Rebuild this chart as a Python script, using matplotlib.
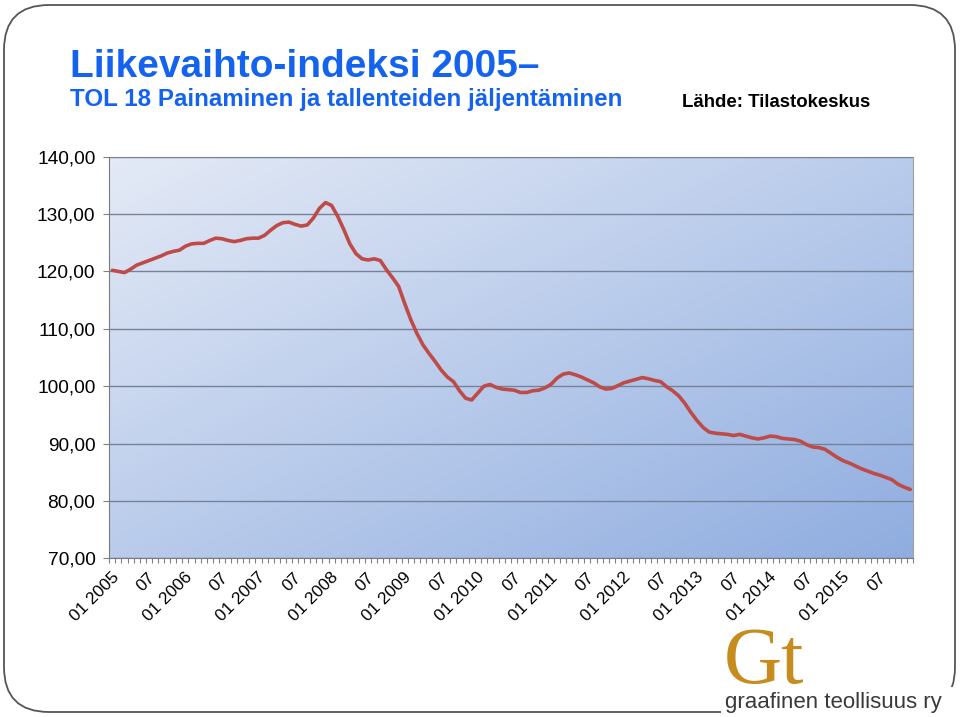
import numpy as np
import matplotlib
matplotlib.use("Agg")
import matplotlib.pyplot as plt
from matplotlib.patches import FancyBboxPatch, Rectangle
from matplotlib.transforms import IdentityTransform, ScaledTranslation

# monthly index, 01/2005 - 12/2015
index_values = [
    120.2, 120.0, 119.8, 120.4, 121.1, 121.5, 121.9, 122.3, 122.7, 123.2, 123.5, 123.7,
    124.4, 124.8, 124.9, 124.9, 125.4, 125.8, 125.7, 125.4, 125.2, 125.4, 125.7, 125.8,
    125.8, 126.3, 127.2, 128.0, 128.5, 128.6, 128.2, 127.9, 128.1, 129.3, 131.0, 132.0,
    131.5, 129.6, 127.3, 124.8, 123.1, 122.2, 122.0, 122.2, 121.9, 120.3, 118.9, 117.4,
    114.4, 111.6, 109.2, 107.2, 105.7, 104.3, 102.8, 101.6, 100.8, 99.2, 97.9, 97.6,
    98.8, 100.0, 100.3, 99.8, 99.5, 99.4, 99.3, 98.9, 98.9, 99.2, 99.3, 99.7,
    100.3, 101.4, 102.1, 102.3, 102.0, 101.6, 101.1, 100.6, 99.9, 99.5, 99.6, 100.1,
    100.6, 100.9, 101.2, 101.5, 101.3, 101.0, 100.8, 99.9, 99.2, 98.3, 97.0, 95.4,
    94.0, 92.8, 92.0, 91.8, 91.7, 91.6, 91.4, 91.6, 91.3, 91.0, 90.8, 91.0,
    91.3, 91.2, 90.9, 90.8, 90.7, 90.4, 89.8, 89.4, 89.3, 89.0, 88.3, 87.6,
    87.0, 86.6, 86.1, 85.6, 85.2, 84.8, 84.5, 84.1, 83.7, 82.9, 82.4, 82.0,
]
years = list(range(2005, 2016))
tick_labels = []
for y in years:
    tick_labels += ["01 " + str(y), "07"]
y_ticks = [70, 80, 90, 100, 110, 120, 130, 140]

plt.rcParams['font.family'] = ['Liberation Sans', 'DejaVu Sans']

W, H = 960, 717
fig = plt.figure(figsize=(W / 100, H / 100), dpi=100)
fig.patch.set_facecolor('white')

# rounded frame
frame = FancyBboxPatch((4, 5), 951, 707, boxstyle="round,pad=0,rounding_size=45",
                       transform=IdentityTransform(), facecolor='none',
                       edgecolor='#555555', linewidth=1.3, zorder=-2)
fig.patches.append(frame)

ax = fig.add_axes([109.3 / W, 1 - 558.3 / H, 804 / W, 401.6 / H])

# gradient background
nx, ny = 200, 200
cols = np.linspace(0, 1, nx)[None, :]
rows = np.linspace(0, 1, ny)[:, None]
t = (cols + rows) / 2
c0 = np.array([0xe4, 0xea, 0xf6]) / 255
c1 = np.array([0x8f, 0xad, 0xe0]) / 255
grad = c0[None, None, :] + t[:, :, None] * (c1 - c0)[None, None, :]
ax.imshow(grad, extent=(0, 1, 0, 1), transform=ax.transAxes, aspect='auto',
          zorder=0, origin='upper')

x = np.arange(len(index_values))
ax.plot(x, index_values, color='#be4b48', linewidth=2.6, zorder=3,
        solid_joinstyle='round', solid_capstyle='round')

ax.set_xlim(-0.5, len(index_values) - 0.5)
ax.set_ylim(70, 140)
ax.set_yticks(y_ticks)
ax.set_yticklabels([f"{v},00" for v in y_ticks], fontsize=13.8)
ax.grid(axis='y', color='#76829a', linewidth=1.0, zorder=1)
ax.set_axisbelow(False)

ax.set_xticks(np.arange(0, len(index_values), 6))
ax.set_xticklabels(tick_labels, rotation=45, ha='right', va='center',
                   rotation_mode='anchor', fontsize=12.4)
ax.set_xticks(np.arange(-0.5, len(index_values), 1), minor=True)
ax.tick_params(axis='x', which='major', length=0, pad=12)
ax.tick_params(axis='x', which='minor', length=3.5, color='#808080', width=0.8)
ax.tick_params(axis='y', length=4, color='#808080', pad=6)
shift = ScaledTranslation(4 / 100, 0, fig.dpi_scale_trans)
for lab in ax.get_xticklabels():
    lab.set_transform(lab.get_transform() + shift)

for s in ['left', 'bottom']:
    ax.spines[s].set_color('#7a7a7a')
for s in ['top', 'right']:
    ax.spines[s].set_color('#a0a0a0')

blue = '#1463ee'
fig.text(70 / W, 1 - 77 / H, "Liikevaihto-indeksi 2005–", color=blue,
         fontsize=28, fontweight='bold', va='baseline', ha='left')
fig.text(70 / W, 1 - 106 / H, "TOL 18 Painaminen ja tallenteiden jäljentäminen",
         color=blue, fontsize=17.4, fontweight='bold', va='baseline', ha='left')
fig.text(682 / W, 1 - 107 / H, "Lähde: Tilastokeskus", color='black',
         fontsize=13.4, fontweight='bold', va='baseline', ha='left')

# logo covers the bottom-right corner of the frame
cover = Rectangle((721, 0), 239, 30, transform=IdentityTransform(),
                  facecolor='white', edgecolor='none', zorder=-1)
fig.patches.append(cover)
fig.text(724 / W, 1 - 683 / H, "Gt", color='#c68c1e', fontsize=58,
         family='Liberation Serif', va='baseline', ha='left')
fig.text(725 / W, 1 - 708 / H, "graafinen teollisuus ry", color='#3a3a3a',
         fontsize=16, va='baseline', ha='left')

fig.savefig("out.png", dpi=100)
